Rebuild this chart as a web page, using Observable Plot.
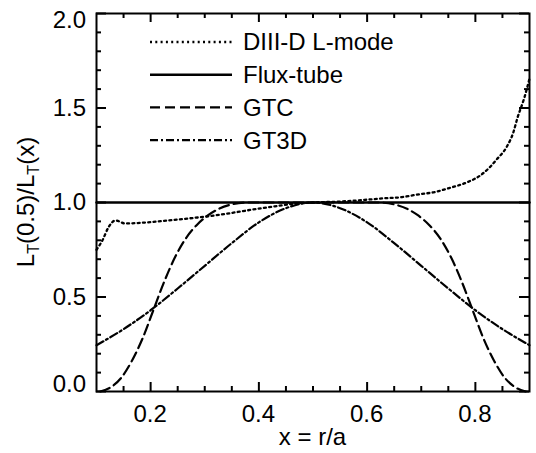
<!DOCTYPE html>
<html><head><meta charset="utf-8">
<script src="https://cdn.jsdelivr.net/npm/d3@7"></script>
<script src="https://cdn.jsdelivr.net/npm/@observablehq/plot@0.6"></script>
<style>body{margin:0;background:#fff;} #chart svg{display:block;}</style>
</head><body><div id="chart"></div>
<script>
// Axis ticks
const xMajor = [0.2, 0.4, 0.6, 0.8];
const xMinor = [0.15, 0.25, 0.3, 0.35, 0.45, 0.5, 0.55, 0.65, 0.7, 0.75, 0.85];
const yMajor = [0.0, 0.5, 1.0, 1.5, 2.0];
const yMinor = [0.1, 0.2, 0.3, 0.4, 0.6, 0.7, 0.8, 0.9, 1.1, 1.2, 1.3, 1.4, 1.6, 1.7, 1.8, 1.9];

// Series names (legend order)
const seriesNames = ["DIII-D L-mode", "Flux-tube", "GTC", "GT3D"];

// DIII-D L-mode (dotted)
const diiidX = [0.100, 0.111, 0.122, 0.135, 0.153, 0.190, 0.250, 0.300, 0.350, 0.387, 0.430, 0.463, 0.500, 0.550, 0.600, 0.630, 0.660, 0.700, 0.721, 0.750, 0.784, 0.810, 0.826, 0.840, 0.857, 0.870, 0.878, 0.890, 0.900];
const diiidY = [0.750, 0.800, 0.868, 0.905, 0.889, 0.894, 0.910, 0.925, 0.945, 0.962, 0.980, 0.993, 1.000, 1.005, 1.015, 1.022, 1.027, 1.045, 1.053, 1.075, 1.106, 1.145, 1.185, 1.230, 1.290, 1.370, 1.450, 1.550, 1.655];

// Flux-tube (solid)
const fluxX = [0.1, 0.9];
const fluxY = [1.0, 1.0];

// GTC (dashed)
const gtcX = [0.107, 0.125, 0.145, 0.165, 0.185, 0.205, 0.225, 0.245, 0.265, 0.285, 0.305, 0.325, 0.350, 0.380, 0.500, 0.620, 0.650, 0.675, 0.695, 0.715, 0.735, 0.755, 0.775, 0.795, 0.815, 0.835, 0.855, 0.875, 0.893];
const gtcY = [0.000, 0.020, 0.070, 0.160, 0.280, 0.430, 0.580, 0.710, 0.810, 0.880, 0.930, 0.965, 0.990, 1.000, 1.000, 1.000, 0.990, 0.965, 0.930, 0.880, 0.810, 0.710, 0.580, 0.430, 0.280, 0.160, 0.070, 0.020, 0.000];

// GT3D (dash-dot)
const gt3dX = [0.10, 0.15, 0.20, 0.25, 0.30, 0.35, 0.40, 0.45, 0.50, 0.55, 0.60, 0.65, 0.70, 0.75, 0.80, 0.85, 0.90];
const gt3dY = [0.245, 0.330, 0.430, 0.545, 0.665, 0.785, 0.895, 0.970, 1.000, 0.970, 0.895, 0.785, 0.665, 0.545, 0.430, 0.330, 0.245];

const dashes = ["2,3.3", null, "10,5", "8,3,2,3"];
const widths = [2.3, 2.5, 2.2, 2.2];

const font = "'Liberation Sans', Arial, Helvetica, sans-serif";
const rows = (xs, ys) => xs.map((x, i) => ({x, y: ys[i]}));
const data = [rows(diiidX, diiidY), rows(fluxX, fluxY), rows(gtcX, gtcY), rows(gt3dX, gt3dY)];
const fmt = d3.format(".1f");
const FS = 24;

const W = 536, H = 453, ML = 96, MR = 7, MT = 13, MB = 62;
const xDom = [0.1, 0.9], yDom = [0, 2];
// data units per pixel, so tick lengths can be given in pixels
const xPerPx = (xDom[1] - xDom[0]) / (W - ML - MR);
const yPerPx = (yDom[1] - yDom[0]) / (H - MT - MB);

const xTickRows = [
  ...xMajor.map(v => ({v, s: 9, side: "b"})), ...xMajor.map(v => ({v, s: 9, side: "t"})),
  ...xMinor.map(v => ({v, s: 5, side: "b"})), ...xMinor.map(v => ({v, s: 5, side: "t"}))
];
const yTickRows = [
  ...yMajor.map(v => ({v, s: 10, side: "l"})), ...yMajor.map(v => ({v, s: 10, side: "r"})),
  ...yMinor.map(v => ({v, s: 5, side: "l"})), ...yMinor.map(v => ({v, s: 5, side: "r"}))
];

const plot = Plot.plot({
  width: W, height: H,
  marginLeft: ML, marginRight: MR, marginTop: MT, marginBottom: MB,
  style: {fontFamily: font, fontSize: FS + "px", color: "#000", background: "#fff"},
  x: {domain: xDom, label: null, axis: null},
  y: {domain: yDom, label: null, axis: null},
  marks: [
    ...data.map((d, i) => Plot.line(d, {x: "x", y: "y", stroke: "#000", strokeWidth: widths[i], strokeDasharray: dashes[i], curve: i === 1 ? "linear" : "monotone-x"})),
    Plot.ruleX(xTickRows, {
      x: "v",
      y1: d => d.side === "b" ? yDom[0] : yDom[1],
      y2: d => d.side === "b" ? yDom[0] + d.s * yPerPx : yDom[1] - d.s * yPerPx,
      stroke: "#000", strokeWidth: 2
    }),
    Plot.ruleY(yTickRows, {
      y: "v",
      x1: d => d.side === "l" ? xDom[0] : xDom[1],
      x2: d => d.side === "l" ? xDom[0] + d.s * xPerPx : xDom[1] - d.s * xPerPx,
      stroke: "#000", strokeWidth: 2
    }),
    Plot.frame({stroke: "#000", strokeWidth: 2})
  ]
});

const sx = plot.scale("x"), sy = plot.scale("y");
const X = v => sx.apply(v), Y = v => sy.apply(v);
const x0 = X(xDom[0]), x1 = X(xDom[1]), y0 = Y(yDom[0]), y1 = Y(yDom[1]);
const svg = d3.select(plot);

// tick labels
const lab = svg.append("g").attr("font-family", font).attr("font-size", FS).attr("fill", "#000");
xMajor.forEach(v => lab.append("text").attr("x", X(v)).attr("y", y0 + 31).attr("text-anchor", "middle").text(fmt(v)));
yMajor.forEach(v => {
  const shift = v === yDom[1] ? 7 : v === yDom[0] ? -7 : 0;
  lab.append("text").attr("x", x0 - 10).attr("y", Y(v) + shift).attr("dy", "0.35em").attr("text-anchor", "end").text(fmt(v));
});
// x-axis title
lab.append("text").attr("x", (x0 + x1) / 2).attr("y", y0 + 54).attr("text-anchor", "middle").text("x = r/a");

// Legend inside the frame
const lg = svg.append("g").attr("font-family", font).attr("font-size", FS).attr("fill", "#000").attr("text-anchor", "start");
seriesNames.forEach((name, i) => {
  const y = 42 + i * 32.7;
  const ln = lg.append("line").attr("x1", 150).attr("x2", 232).attr("y1", y).attr("y2", y)
    .attr("stroke", "#000").attr("stroke-width", widths[i]);
  if (dashes[i]) ln.attr("stroke-dasharray", dashes[i]);
  lg.append("text").attr("x", 243).attr("y", y).attr("dy", "0.35em").text(name);
});
// Y-axis title with subscripts
const yl = svg.append("text").attr("transform", `translate(34,${(y0 + y1) / 2}) rotate(-90)`)
  .attr("text-anchor", "middle").attr("font-family", font).attr("font-size", FS).attr("fill", "#000");
yl.append("tspan").text("L");
yl.append("tspan").attr("font-size", 16).attr("dy", 5).text("T");
yl.append("tspan").attr("dy", -5).text("(0.5)/L");
yl.append("tspan").attr("font-size", 16).attr("dy", 5).text("T");
yl.append("tspan").attr("dy", -5).text("(x)");

document.getElementById("chart").appendChild(plot);
</script>
</body></html>
